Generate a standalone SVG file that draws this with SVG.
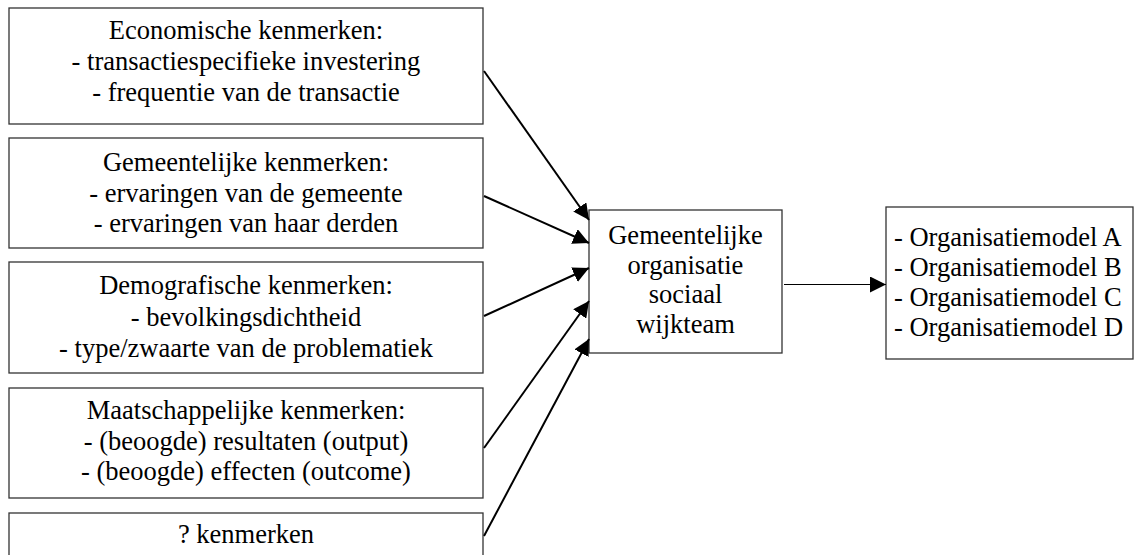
<svg xmlns="http://www.w3.org/2000/svg" width="1138" height="555" viewBox="0 0 1138 555">
<style>
.box{fill:#fff;stroke:#333;stroke-width:1.3}
.t{font-family:"Liberation Serif","Times New Roman",serif;font-size:26.5px;fill:#000}
.c{text-anchor:middle}
.conn{stroke:#000;stroke-width:2;fill:none}
.thin{stroke:#000;stroke-width:1.2;fill:none}
</style>
<defs>
<marker id="ah" markerUnits="userSpaceOnUse" markerWidth="16" markerHeight="16" refX="16" refY="8" orient="auto">
<path d="M0,0 L16,8 L0,16 z" fill="#000"/>
</marker>
</defs>
<rect width="1138" height="555" fill="#fff"/>
<g id="n1">
<rect class="box" x="9" y="8" width="474" height="116"/>
<text class="t c"><tspan x="246" y="38.5">Economische kenmerken:</tspan><tspan x="246" y="70">- transactiespecifieke investering</tspan><tspan x="246" y="100.5">- frequentie van de transactie</tspan></text>
</g>
<g id="n2">
<rect class="box" x="9" y="138" width="474" height="110"/>
<text class="t c"><tspan x="246" y="170.5">Gemeentelijke kenmerken:</tspan><tspan x="246" y="202">- ervaringen van de gemeente</tspan><tspan x="246" y="232">- ervaringen van haar derden</tspan></text>
</g>
<g id="n3">
<rect class="box" x="9" y="262" width="474" height="111"/>
<text class="t c"><tspan x="246" y="293.5">Demografische kenmerken:</tspan><tspan x="246" y="325.5">- bevolkingsdichtheid</tspan><tspan x="246" y="357">- type/zwaarte van de problematiek</tspan></text>
</g>
<g id="n4">
<rect class="box" x="9" y="388" width="474" height="110"/>
<text class="t c"><tspan x="246" y="418.5">Maatschappelijke kenmerken:</tspan><tspan x="246" y="450">- (beoogde) resultaten (output)</tspan><tspan x="246" y="480">- (beoogde) effecten (outcome)</tspan></text>
</g>
<g id="n5">
<rect class="box" x="9" y="513" width="474" height="60"/>
<text class="t c" x="246" y="543">? kenmerken</text>
</g>
<g id="center">
<rect class="box" x="589" y="210" width="193" height="143"/>
<text class="t c"><tspan x="685.5" y="243.5">Gemeentelijke</tspan><tspan x="685.5" y="273.5">organisatie</tspan><tspan x="685.5" y="303">sociaal</tspan><tspan x="685.5" y="332.5">wijkteam</tspan></text>
</g>
<g id="models">
<rect class="box" x="886" y="207" width="247" height="152"/>
<text class="t"><tspan x="894" y="246">- Organisatiemodel A</tspan><tspan x="894" y="276">- Organisatiemodel B</tspan><tspan x="894" y="306">- Organisatiemodel C</tspan><tspan x="894" y="336">- Organisatiemodel D</tspan></text>
</g>
<g id="connectors">
<line class="conn" x1="484" y1="71" x2="589" y2="220" marker-end="url(#ah)"/>
<line class="conn" x1="484" y1="196" x2="589" y2="243" marker-end="url(#ah)"/>
<line class="conn" x1="484" y1="316" x2="589" y2="268" marker-end="url(#ah)"/>
<line class="conn" x1="484" y1="448" x2="589" y2="301" marker-end="url(#ah)"/>
<line class="conn" x1="484" y1="536" x2="589" y2="339" marker-end="url(#ah)"/>
<line class="thin" x1="784" y1="284.5" x2="886" y2="284.5" marker-end="url(#ah)"/>
</g>
</svg>
